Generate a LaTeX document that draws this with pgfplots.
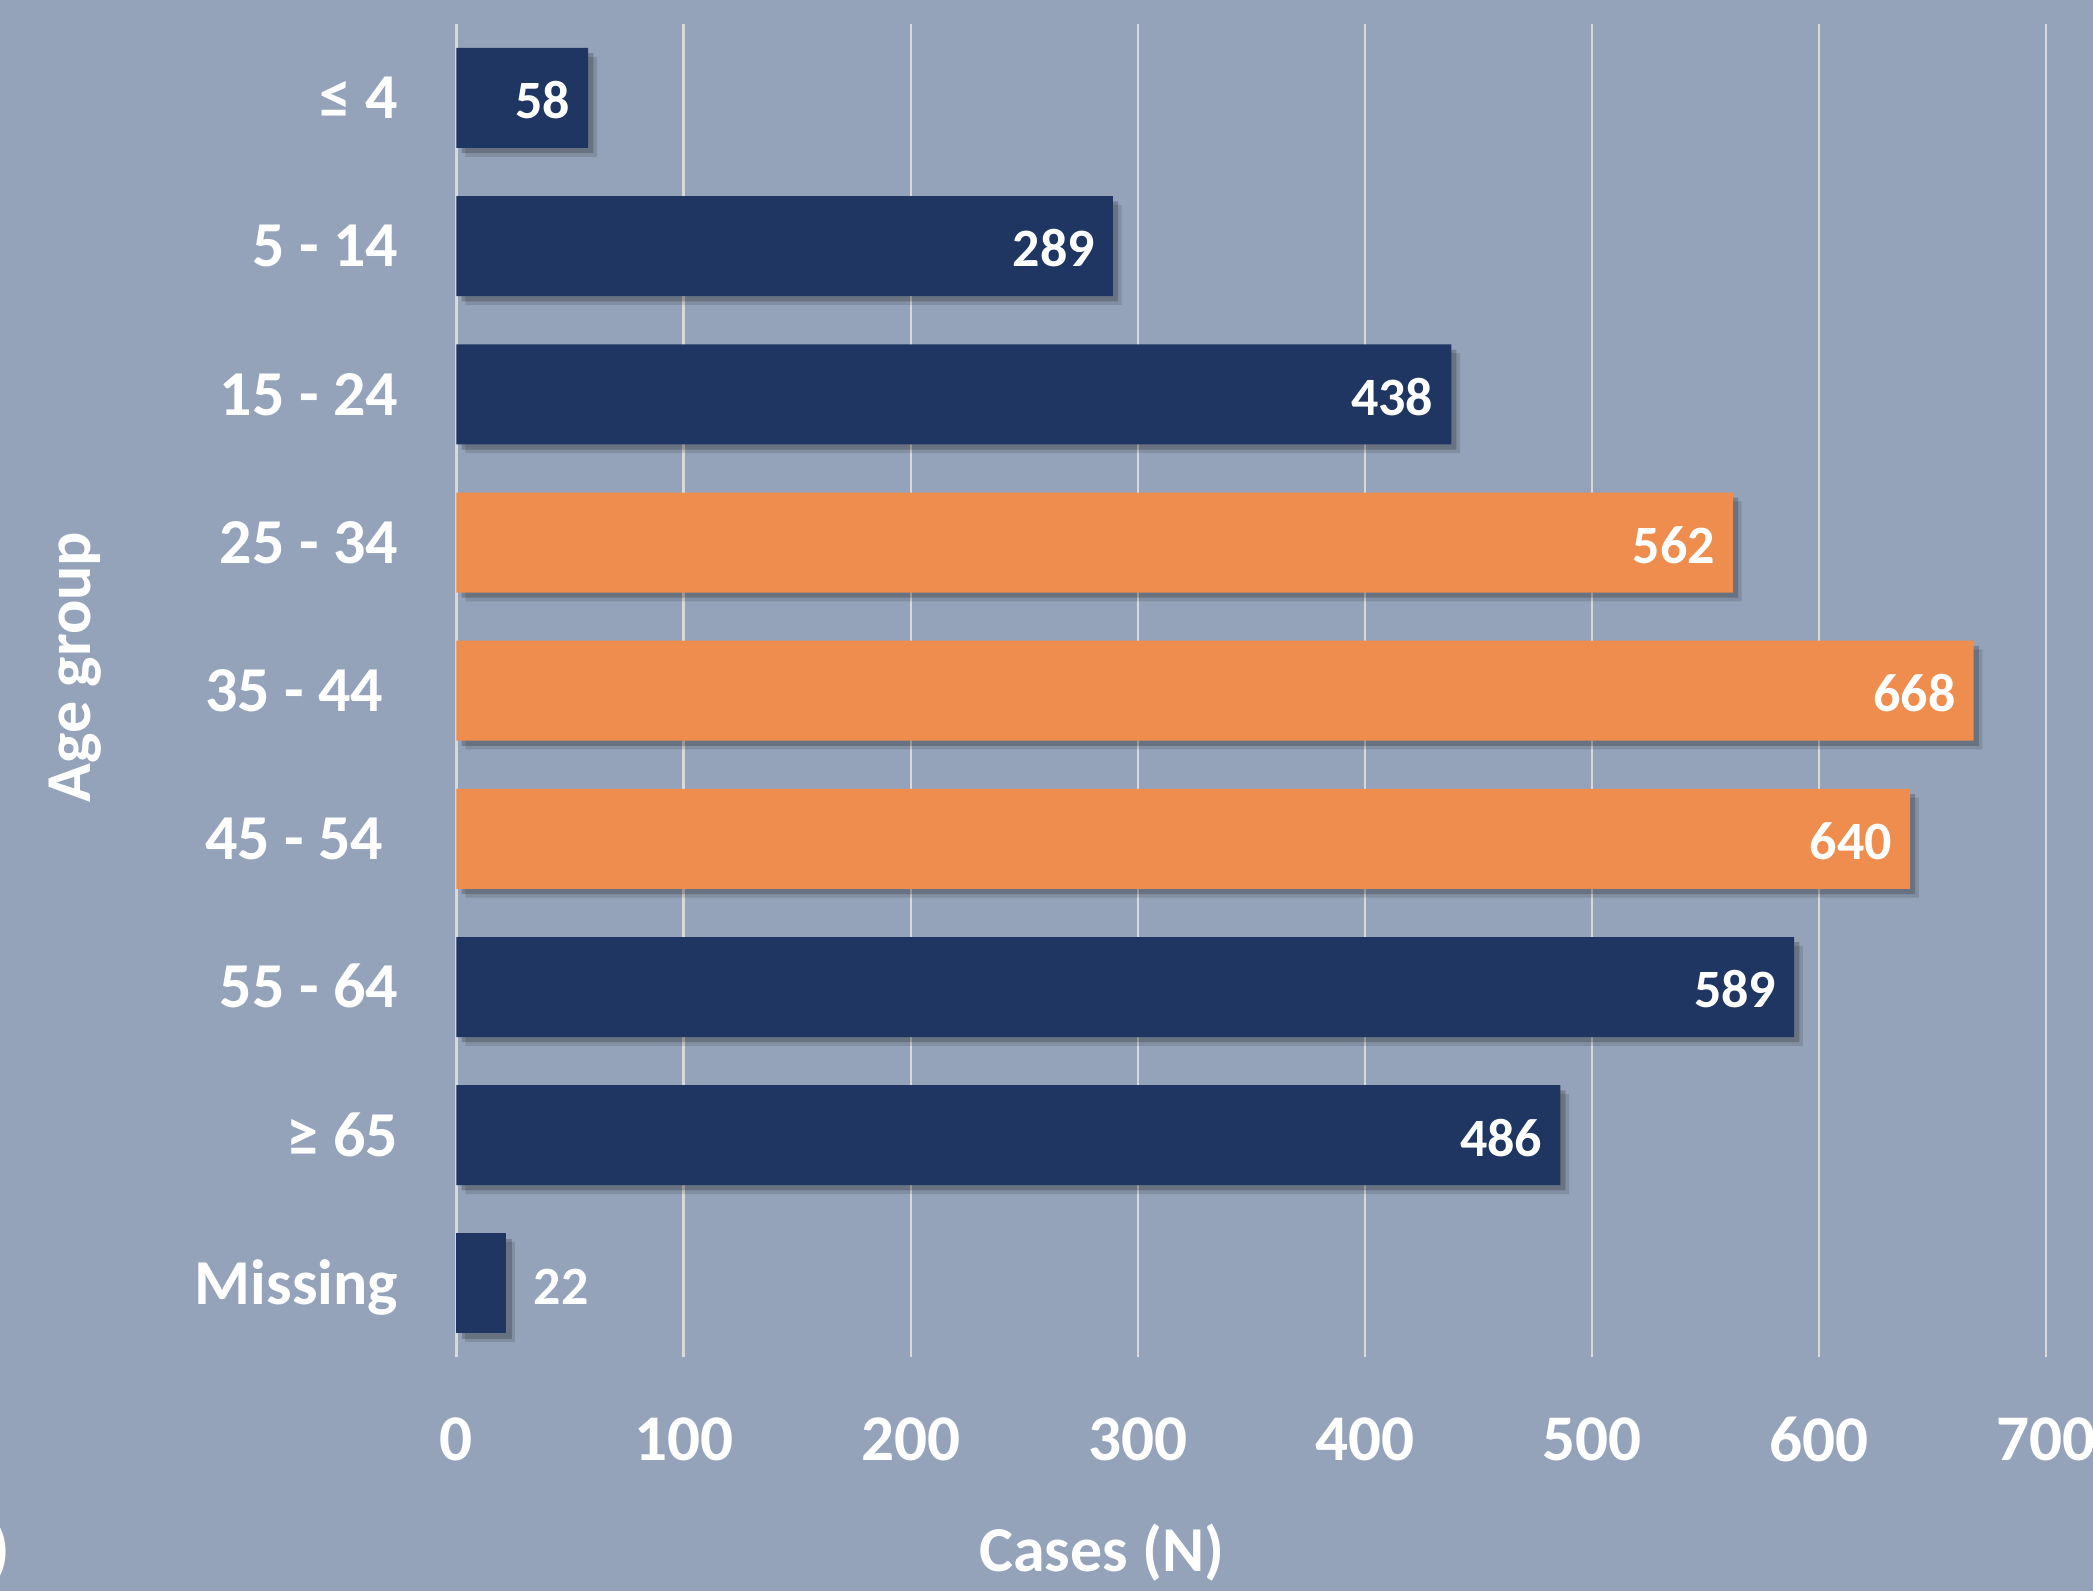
\documentclass[border=0pt]{standalone}
\usepackage{fontspec}
\setmainfont{Carlito}
\usepackage{pgfplots}
\pgfplotsset{compat=1.18}
\definecolor{bgcol}{HTML}{94A3B9}
\definecolor{navy}{HTML}{1F3662}
\definecolor{orng}{HTML}{EE8D4D}
\definecolor{gridcol}{HTML}{D9D9D9}
\tikzset{shad/.style={preaction={fill=black, fill opacity=0.12, draw=none, transform canvas={xshift=2.2pt,yshift=-2.2pt}},
  preaction={fill=black, fill opacity=0.2, draw=none, transform canvas={xshift=1.3pt,yshift=-1.3pt}}}}
\begin{document}
\begin{tikzpicture}
\fill[bgcol] (0,0) rectangle (523.25pt,397.75pt);
\useasboundingbox (0,0) rectangle (523.25pt,397.75pt);
\begin{axis}[
 at={(114.125pt,58.375pt)}, anchor=south west,
 scale only axis, width=397.45pt, height=333.4pt,
 xmin=0, xmax=700, ymin=-0.5, ymax=8.5,
 xbar, bar width=25pt, bar shift=0pt,
 axis line style={draw=none},
 xmajorgrids, major grid style={gridcol, line width=0.6pt},
 xtick={0,100,...,700}, ytick={0,...,8},
 yticklabels={Missing, ≥ 65, 55 - 64, 45 - 54\kern3.7pt, 35 - 44\kern3.7pt, 25 - 34, 15 - 24, 5 - 14, ≤ 4},
 major tick length=0pt,
 /pgf/number format/assume math mode=true,
 tick label style={font=\bfseries\fontsize{16.3}{18}\selectfont, text=white, inner sep=0pt},
 xticklabel style={anchor=north, yshift=-14.8pt},
 yticklabel style={font=\bfseries\fontsize{16}{18}\selectfont, anchor=base east, xshift=-14.4pt, yshift=-5.2pt},
 nodes near coords,
 every node near coord/.append style={font=\bfseries\fontsize{13.5}{15}\selectfont, text=white, inner sep=0pt, anchor=base east, xshift=-4.3pt, yshift=-5.2pt},
 clip=false,
]
\addplot[fill=navy, draw=none, shad]
 coordinates {(58,8) (289,7) (438,6) (589,2) (486,1)};
\addplot[fill=orng, draw=none, shad]
 coordinates {(562,5) (668,4) (640,3)};
\addplot[fill=navy, draw=none, shad,
 every node near coord/.append style={anchor=base west, xshift=10.9pt}]
 coordinates {(22,0)};
\end{axis}
\node[anchor=base, text=white, font=\bfseries\fontsize{16}{18}\selectfont] at (275.5pt,4.75pt) {Cases (N)};
\node[anchor=base, rotate=90, text=white, font=\bfseries\fontsize{16}{18}\selectfont] at (22.7pt,231pt) {Age group};
\node[anchor=east, inner sep=0pt, text=white, font=\bfseries\fontsize{16.5}{18}\selectfont] at (2.6pt,9.75pt) {)};
\end{tikzpicture}
\end{document}
